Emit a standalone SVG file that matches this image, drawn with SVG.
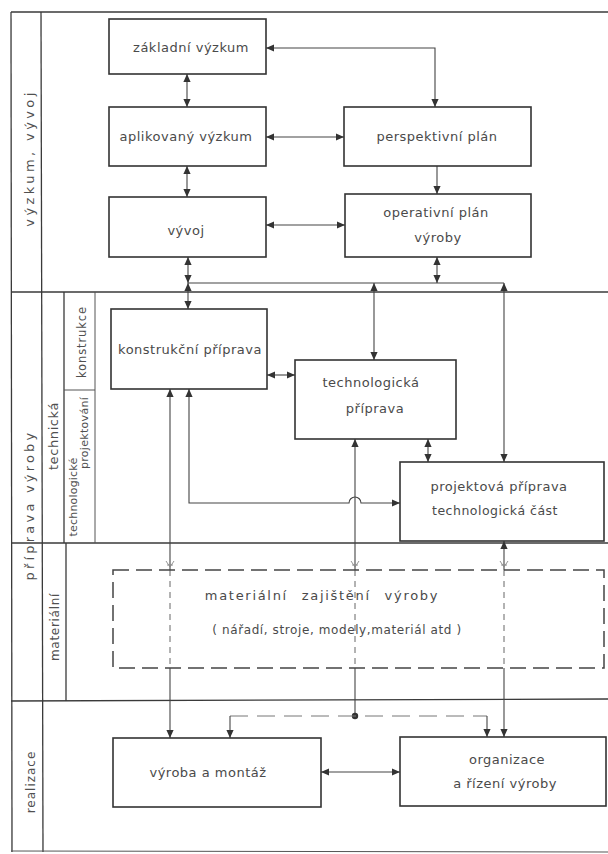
<svg xmlns="http://www.w3.org/2000/svg" width="608" height="854" viewBox="0 0 608 854">
  <defs>
    <style>
      .frame { fill: none; stroke: #3a3a3a; stroke-width: 1.3; }
      .frame-thin { fill: none; stroke: #555; stroke-width: 1; }
      .box { fill: #fff; stroke: #333; stroke-width: 1.6; }
      .dbox { fill: none; stroke: #444; stroke-width: 1.5; stroke-dasharray: 16 7; }
      .conn { fill: none; stroke: #444; stroke-width: 1.1; }
      .conn-dash { fill: none; stroke: #666; stroke-width: 1; stroke-dasharray: 6 5; }
      .conn-faint { fill: none; stroke: #777; stroke-width: 1; stroke-dasharray: 18 9; }
      .tick { fill: none; stroke: #888; stroke-width: 0.9; }
      .t { font-family: "DejaVu Sans", "Liberation Sans", sans-serif; font-size: 13px; fill: #4a4a4a; text-anchor: middle; letter-spacing: 0.5px; }
      .side { font-family: "DejaVu Sans", "Liberation Sans", sans-serif; fill: #505050; text-anchor: middle; }
    </style>
    <marker id="ah" viewBox="0 0 10 10" refX="10" refY="5" markerWidth="8" markerHeight="8" markerUnits="userSpaceOnUse" orient="auto-start-reverse">
      <path d="M0,0.5 L10,5 L0,9.5 z" fill="#333"/>
    </marker>
  </defs>

  <rect x="0" y="0" width="608" height="854" fill="#fff"/>

  <!-- outer frame and section bands -->
  <g id="frame">
    <line class="frame" x1="11" y1="12" x2="608" y2="12"/>
    <line class="frame" x1="11" y1="12" x2="12" y2="852"/>
    <line class="frame" x1="41" y1="12" x2="43" y2="852"/>
    <line class="frame" x1="11" y1="292" x2="608" y2="292"/>
    <line class="frame" x1="11" y1="543" x2="608" y2="543"/>
    <line class="frame" x1="11" y1="701" x2="608" y2="699"/>
    <line class="frame-thin" x1="11" y1="851" x2="608" y2="852"/>
    <!-- technická / konstrukce / technologické projektování columns -->
    <line class="frame" x1="64" y1="292" x2="64" y2="543"/>
    <line class="frame-thin" x1="95" y1="292" x2="95" y2="543"/>
    <line class="frame-thin" x1="64" y1="390" x2="95" y2="390"/>
    <!-- materiální column -->
    <line class="frame" x1="66" y1="543" x2="66" y2="701"/>
  </g>

  <!-- band labels -->
  <g id="band-labels">
    <text class="side" font-size="13" letter-spacing="3.4" transform="translate(30,158) rotate(-90)" dy="4">výzkum, vývoj</text>
    <text class="side" font-size="13" letter-spacing="3.2" transform="translate(30,505) rotate(-90)" dy="4">příprava výroby</text>
    <text class="side" font-size="12" letter-spacing="1" transform="translate(31,782) rotate(-90)" dy="4">realizace</text>
    <text class="side" font-size="13" letter-spacing="0.6" transform="translate(54,436) rotate(-90)" dy="4">technická</text>
    <text class="side" font-size="11.5" letter-spacing="0.9" transform="translate(82,342) rotate(-90)" dy="4">konstrukce</text>
    <text class="side" font-size="11" letter-spacing="0.2" transform="translate(73,497) rotate(-90)" dy="4">technologické</text>
    <text class="side" font-size="11" letter-spacing="0.3" transform="translate(84,433) rotate(-90)" dy="4">projektování</text>
    <text class="side" font-size="12" letter-spacing="0.7" transform="translate(55,627) rotate(-90)" dy="4">materiální</text>
  </g>

  <!-- connectors -->
  <g id="connectors">
    <path class="conn" d="M266,48 H435 V107" marker-start="url(#ah)" marker-end="url(#ah)"/>
    <path class="conn" d="M187,74 V107" marker-start="url(#ah)" marker-end="url(#ah)"/>
    <path class="conn" d="M266,137 H344" marker-start="url(#ah)" marker-end="url(#ah)"/>
    <path class="conn" d="M187,166 V197" marker-start="url(#ah)" marker-end="url(#ah)"/>
    <path class="conn" d="M437,166 V194" marker-end="url(#ah)"/>
    <path class="conn" d="M266,225 H345" marker-start="url(#ah)" marker-end="url(#ah)"/>
    <!-- distribution bus below the research band -->
    <path class="conn" d="M188,283 H504"/>
    <path class="conn" d="M188,257 V283" marker-start="url(#ah)" marker-end="url(#ah)"/>
    <path class="conn" d="M188,283 V309" marker-start="url(#ah)" marker-end="url(#ah)"/>
    <path class="conn" d="M437,257 V283" marker-start="url(#ah)" marker-end="url(#ah)"/>
    <path class="conn" stroke="#6e4a58" d="M374,283 V360" marker-start="url(#ah)" marker-end="url(#ah)"/>
    <path class="conn" stroke="#6e4a58" d="M504,283 V462" marker-start="url(#ah)" marker-end="url(#ah)"/>
    <path class="conn" d="M267,375 H295" marker-start="url(#ah)" marker-end="url(#ah)"/>
    <path class="conn" d="M428,439 V462" marker-start="url(#ah)" marker-end="url(#ah)"/>
    <!-- konstrukční příprava down to výroba a montáž -->
    <path class="conn" stroke="#4f6f72" d="M170,389 V570" marker-start="url(#ah)"/>
    <path class="conn-dash" d="M170,570 V668"/>
    <path class="conn" d="M170,668 V738" marker-end="url(#ah)"/>
    <!-- konstrukční příprava to projektová příprava, hopping over the vertical -->
    <path class="conn" d="M189,389 V503 H349 A6,6 0 0 1 361,503 H400" marker-start="url(#ah)" marker-end="url(#ah)"/>
    <!-- technologická příprava down to junction -->
    <path class="conn" d="M355,439 V570" marker-start="url(#ah)"/>
    <path class="conn-dash" d="M355,570 V668"/>
    <path class="conn" d="M355,668 V716"/>
    <circle cx="355" cy="716" r="3.2" fill="#333"/>
    <path class="conn-faint" d="M230,716 H487"/>
    <path class="conn" stroke="#777" d="M230,716 V738" marker-end="url(#ah)"/>
    <path class="conn" stroke="#777" d="M487,716 V737" marker-end="url(#ah)"/>
    <!-- projektová příprava down to organizace -->
    <path class="conn" stroke="#6e4a58" d="M504,541 V570" marker-start="url(#ah)"/>
    <path class="conn-dash" d="M504,570 V668"/>
    <path class="conn" stroke="#6e4a58" d="M504,668 V737" marker-end="url(#ah)"/>
    <path class="conn" d="M321,772 H400" marker-start="url(#ah)" marker-end="url(#ah)"/>
    <!-- small marks where the lines enter the supply block -->
    <path class="tick" d="M166,561 L170,567 L174,561 M167,565 H173"/>
    <path class="tick" d="M351,561 L355,567 L359,561 M352,565 H358"/>
    <path class="tick" d="M500,561 L504,567 L508,561 M501,565 H507"/>
  </g>

  <!-- nodes -->
  <g id="zakladni-vyzkum">
    <rect class="box" x="109" y="19" width="157" height="55"/>
    <text class="t" x="191" y="52">základní výzkum</text>
  </g>
  <g id="aplikovany-vyzkum">
    <rect class="box" x="109" y="107" width="157" height="59"/>
    <text class="t" x="186" y="141">aplikovaný výzkum</text>
  </g>
  <g id="vyvoj">
    <rect class="box" x="109" y="197" width="157" height="60"/>
    <text class="t" x="186" y="235">vývoj</text>
  </g>
  <g id="perspektivni-plan">
    <rect class="box" x="344" y="107" width="187" height="59"/>
    <text class="t" x="437" y="141">perspektivní plán</text>
  </g>
  <g id="operativni-plan">
    <rect class="box" x="345" y="194" width="186" height="63"/>
    <text class="t" x="436" y="217">operativní plán</text>
    <text class="t" x="438" y="242">výroby</text>
  </g>
  <g id="konstrukcni-priprava">
    <rect class="box" x="111" y="309" width="156" height="80"/>
    <text class="t" x="190" y="354">konstrukční příprava</text>
  </g>
  <g id="technologicka-priprava">
    <rect class="box" x="295" y="360" width="161" height="79"/>
    <text class="t" x="371" y="387">technologická</text>
    <text class="t" x="375" y="413">příprava</text>
  </g>
  <g id="projektova-priprava">
    <rect class="box" x="400" y="462" width="204" height="79"/>
    <text class="t" x="499" y="491">projektová příprava</text>
    <text class="t" x="495" y="515" style="font-size:12.5px">technologická část</text>
  </g>
  <g id="materialni-zajisteni">
    <rect class="dbox" x="113" y="570" width="491" height="98"/>
    <text class="t" x="322" y="600" style="letter-spacing:1.7px; word-spacing:8px">materiální zajištění výroby</text>
    <text class="t" x="337" y="634" style="font-size:12px; letter-spacing:0.6px">( nářadí, stroje, modely,materiál atd )</text>
  </g>
  <g id="vyroba-montaz">
    <rect class="box" x="113" y="738" width="208" height="69"/>
    <text class="t" x="208" y="777">výroba a montáž</text>
  </g>
  <g id="organizace-rizeni">
    <rect class="box" x="400" y="737" width="206" height="69"/>
    <text class="t" x="507" y="764">organizace</text>
    <text class="t" x="505" y="788">a řízení výroby</text>
  </g>
</svg>
